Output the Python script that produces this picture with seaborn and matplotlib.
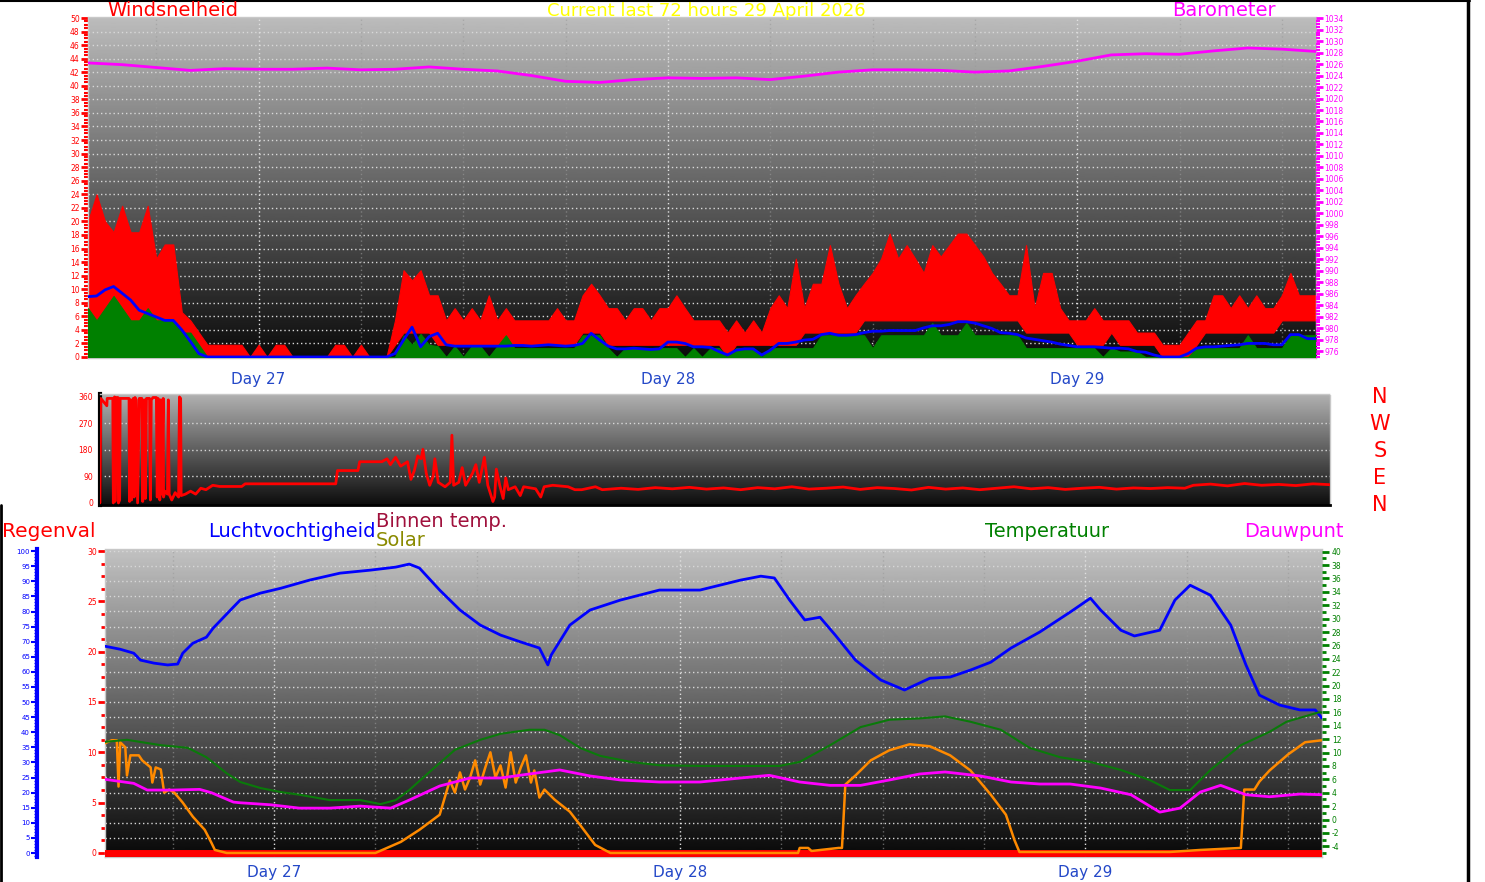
import numpy as np
import pandas as pd
import matplotlib
matplotlib.use("Agg")
import matplotlib.pyplot as plt
from matplotlib.lines import Line2D
from matplotlib.ticker import MultipleLocator
import seaborn as sns

W, H = 1485, 882

# time axis = hours since the start of the 72 hour window (Day 26 ~14:00)
half_hours = np.arange(0, 72.5, 0.5)
day_ticks = [10, 34, 58]
day_labels = ["Day 27", "Day 28", "Day 29"]
six_hour_ticks = [4, 16, 22, 28, 40, 46, 52, 64, 70]

# wind speed, half-hourly (upper / lower edge of the gust band, average, wind)
gust_hi = [20, 24, 20, 18.4, 22.3, 18.4, 18.4, 22.3, 14.5, 16.6,
           16.6, 6.6, 5.4, 3.6, 1.8, 1.8, 1.8, 1.8, 1.8, 0,
           1.8, 0, 1.8, 1.8, 0, 0, 0, 0, 0, 1.8,
           1.8, 0, 1.8, 0, 0, 0, 5.4, 12.8, 11.3, 12.8,
           9.1, 9.1, 5.4, 7.2, 5.4, 7.2, 5.4, 9.1, 5.4, 7.2,
           5.4, 5.4, 5.4, 5.4, 5.4, 7.2, 5.4, 5.4, 9.1, 10.8,
           9.1, 7.2, 7.2, 5.4, 7.2, 7.2, 5.4, 7.2, 7.2, 9.1,
           7.2, 5.4, 5.4, 5.4, 5.4, 3.6, 5.4, 3.6, 5.4, 3.6,
           7.2, 9.1, 7.2, 14.5, 7.2, 10.8, 10.8, 16.5, 10.8, 7.2,
           9.1, 10.8, 12.4, 14.5, 18.2, 14.5, 16.5, 14.5, 12.4, 16.5,
           14.8, 16.5, 18.2, 18.2, 16.5, 14.8, 12.4, 10.8, 9.1, 9.1,
           16.5, 7.2, 12.4, 12.4, 7.2, 5.4, 5.4, 5.4, 7.2, 5.4,
           5.4, 5.4, 5.4, 3.6, 3.6, 3.6, 1.8, 1.8, 1.8, 3.6,
           5.4, 5.4, 9.1, 9.1, 7.2, 9.1, 7.2, 9.1, 7.2, 7.2,
           9.1, 12.4, 9.1, 9.1, 9.1]
gust_lo = [3.6, 3.6, 3.6, 3.6, 3.6, 3.6, 3.6, 3.6, 3.6, 3.6,
           3.6, 1.8, 1.8, 0, 0, 0, 0, 0, 0, 0,
           0, 0, 0, 0, 0, 0, 0, 0, 0, 0,
           0, 0, 0, 0, 0, 0, 1.8, 3.6, 3.6, 3.6,
           3.6, 1.8, 1.8, 1.8, 1.8, 1.8, 1.8, 1.8, 1.8, 1.8,
           1.8, 1.8, 1.8, 1.8, 1.8, 1.8, 1.8, 1.8, 3.6, 3.6,
           3.6, 1.8, 1.8, 1.8, 1.8, 1.8, 1.8, 1.8, 1.8, 1.8,
           1.8, 1.8, 1.8, 1.8, 1.8, 0, 1.8, 1.8, 1.8, 1.8,
           1.8, 1.8, 1.8, 1.8, 3.6, 3.6, 3.6, 3.6, 3.6, 3.6,
           3.6, 5.4, 5.4, 5.4, 5.4, 5.4, 5.4, 5.4, 5.4, 5.4,
           5.4, 5.4, 5.4, 5.4, 5.4, 5.4, 5.4, 5.4, 5.4, 5.4,
           3.6, 3.6, 3.6, 3.6, 3.6, 3.6, 1.8, 1.8, 1.8, 1.8,
           3.6, 1.8, 1.8, 1.8, 1.8, 1.8, 0, 0, 0, 0,
           1.8, 3.6, 3.6, 3.6, 3.6, 3.6, 3.6, 3.6, 3.6, 3.6,
           5.4, 5.4, 5.4, 5.4, 5.4]
wind_avg = [8.9, 9.0, 9.9, 10.4, 9.4, 8.4, 6.9, 6.4, 5.9, 5.4,
            5.4, 4.0, 2.3, 0.5, 0, 0, 0, 0, 0, 0,
            0, 0, 0, 0, 0, 0, 0, 0, 0, 0,
            0, 0, 0, 0, 0, 0, 0.5, 2.5, 4.4, 1.5,
            3.0, 3.5, 1.8, 1.6, 1.6, 1.6, 1.6, 1.6, 1.6, 1.6,
            1.7, 1.7, 1.6, 1.7, 1.8, 1.7, 1.6, 1.7, 2.0, 3.5,
            2.5, 1.6, 1.2, 1.2, 1.3, 1.2, 1.1, 1.2, 2.2, 2.2,
            2.0, 1.5, 1.5, 1.4, 0.8, 0.3, 1.0, 1.2, 1.2, 0.3,
            1.0, 2.0, 2.0, 2.2, 2.5, 2.6, 3.3, 3.5, 3.2, 3.2,
            3.3, 3.6, 3.8, 3.8, 3.9, 3.9, 3.9, 3.9, 4.3, 4.6,
            4.6, 4.8, 5.2, 5.2, 5.0, 4.6, 4.2, 3.6, 3.5, 3.3,
            2.8, 2.6, 2.4, 2.2, 1.9, 1.7, 1.5, 1.5, 1.5, 1.4,
            1.3, 1.3, 1.2, 0.8, 0.7, 0.3, 0, 0, 0, 0.5,
            1.3, 1.5, 1.5, 1.6, 1.7, 1.8, 2.0, 2.0, 2.0, 1.8,
            1.8, 3.3, 3.3, 2.7, 2.7]
wind_speed = [7.2, 5.4, 7.2, 9.0, 7.2, 5.4, 5.4, 7.2, 5.4, 5.4,
              5.4, 3.6, 3.6, 1.8, 0, 0, 0, 0, 0, 0,
              0, 0, 0, 0, 0, 0, 0, 0, 0, 0,
              0, 0, 0, 0, 0, 0, 0, 3.2, 1.8, 3.4,
              1.8, 1.6, 0, 1.6, 0, 1.6, 1.6, 0, 1.6, 3.2,
              1.3, 1.3, 1.3, 1.3, 1.3, 1.3, 1.3, 1.3, 3.2, 3.2,
              3.2, 1.3, 0, 1.3, 1.3, 1.3, 1.3, 1.3, 1.3, 1.3,
              0, 1.3, 0, 1.3, 1.3, 0, 1.3, 1.3, 1.3, 0,
              1.3, 1.3, 1.3, 1.3, 1.3, 1.3, 3.2, 3.2, 3.2, 3.2,
              3.2, 3.2, 1.3, 3.2, 3.2, 3.2, 3.2, 3.2, 3.2, 5.0,
              3.2, 3.2, 3.2, 5.0, 3.2, 3.2, 3.2, 3.2, 3.2, 3.2,
              1.3, 1.3, 1.3, 1.3, 1.3, 1.3, 1.3, 1.3, 1.3, 0,
              1.3, 0.8, 0.8, 0.8, 0, 0, 0, 0, 0, 0,
              1.3, 1.3, 1.3, 1.3, 1.3, 1.3, 3.2, 1.3, 1.3, 1.3,
              1.3, 3.2, 3.2, 3.2, 3.2]

# barometer (hPa), every 2 hours
baro_hours = list(range(0, 73, 2))
barometer = [1026.2, 1025.9, 1025.4, 1024.9, 1025.2, 1025.1, 1025.1, 1025.3, 1025.0, 1025.1,
             1025.5, 1025.1, 1024.8, 1024.0, 1023.0, 1022.8, 1023.3, 1023.6, 1023.5, 1023.6,
             1023.3, 1023.9, 1024.6, 1025.0, 1025.0, 1024.9, 1024.6, 1024.8, 1025.6, 1026.5,
             1027.6, 1027.8, 1027.7, 1028.3, 1028.8, 1028.6, 1028.2]

# wind direction (degrees)
dir_hours = [0.0, 0.05, 0.4, 0.42, 0.45, 0.75, 0.78, 0.85, 0.88, 0.95,
             1.05, 1.08, 1.15, 1.18, 1.7, 1.73, 1.8, 1.85, 1.95, 2.0,
             2.05, 2.12, 2.2, 2.3, 2.45, 2.5, 2.6, 2.65, 2.72, 2.9,
             2.95, 3.0, 3.1, 3.3, 3.35, 3.4, 3.5, 3.55, 3.6, 3.7,
             3.72, 3.8, 3.95, 4.0, 4.05, 4.2, 4.4, 4.6, 4.65, 4.72,
             4.75, 5.0, 5.3, 5.6, 5.9, 6.2, 6.6, 7.0, 8.3, 8.5,
             13.8, 13.9, 15.1, 15.2, 16.5, 16.8, 17.0, 17.3, 17.6, 18.0,
             18.2, 18.4, 18.6, 18.8, 18.9, 19.1, 19.3, 19.5, 19.6, 19.8,
             20.2, 20.5, 20.6, 20.7, 21.0, 21.2, 21.4, 21.8, 22.0, 22.2,
             22.5, 22.7, 23.0, 23.1, 23.2, 23.4, 23.6, 23.75, 23.9, 24.3,
             24.6, 24.8, 25.5, 25.8, 26.0, 26.5, 27.4, 27.8, 28.2, 29.0,
             29.4, 30.5, 31.5, 32.5, 33.5, 34.5, 35.5, 36.5, 37.5, 38.5,
             39.5, 40.5, 41.5, 42.5, 43.5, 44.5, 45.5, 46.5, 47.5, 48.5,
             49.5, 50.5, 51.5, 52.5, 53.5, 54.5, 55.5, 56.5, 57.5, 58.5,
             59.5, 60.5, 61.5, 62.5, 63.5, 64.0, 65.0, 66.0, 67.0, 68.0,
             69.0, 70.0, 71.0, 72.0]
wind_dir = [0, 355, 330, 355, 355, 355, 0, 360, 5, 358,
            358, 0, 10, 355, 355, 5, 350, 10, 355, 20,
            358, 350, 0, 355, 355, 5, 350, 15, 355, 355,
            10, 350, 358, 358, 20, 355, 10, 350, 30, 355,
            20, 40, 30, 350, 30, 10, 35, 20, 360, 355,
            25, 30, 40, 30, 50, 45, 60, 56, 56, 65,
            65, 110, 110, 140, 140, 150, 130, 155, 125, 140,
            80, 110, 160, 150, 182, 100, 60, 90, 150, 70,
            55, 70, 230, 60, 70, 120, 60, 100, 130, 70,
            155, 60, 5, 20, 115, 60, 15, 85, 45, 55,
            25, 55, 48, 20, 55, 60, 55, 45, 45, 55,
            45, 50, 46, 52, 48, 53, 47, 51, 45, 52,
            48, 55, 47, 50, 54, 46, 52, 49, 44, 53,
            47, 51, 45, 50, 55, 48, 52, 46, 50, 53,
            47, 51, 49, 52, 50, 60, 64, 58, 66, 60,
            63, 59, 65, 62]

# humidity (%)
hum_hours = [0, 0.9, 1.7, 2.1, 2.9, 3.7, 4.3, 4.6, 5.2, 6.0,
             6.4, 7.6, 8.0, 9.2, 10.4, 12.1, 13.9, 15.7, 17.2, 18.0,
             18.6, 19.8, 21.0, 22.2, 23.4, 24.6, 25.7, 26.2, 26.4, 27.5,
             28.7, 30.5, 32.8, 35.2, 37.6, 38.8, 39.6, 40.5, 41.4, 42.3,
             43.2, 44.4, 45.9, 47.3, 48.8, 50.0, 51.2, 52.4, 53.6, 55.3,
             57.1, 58.3, 58.9, 60.1, 60.9, 62.4, 63.3, 64.2, 65.4, 66.6,
             67.5, 68.3, 69.5, 70.7, 71.6, 72.0]
humidity = [68.5, 67.5, 66.2, 63.9, 62.9, 62.3, 62.6, 66.2, 69.5, 71.5,
            74.5, 81.5, 83.8, 86.1, 87.7, 90.4, 92.7, 93.7, 94.7, 95.7,
            94.4, 87.1, 80.5, 75.5, 72.2, 69.9, 67.9, 62.3, 65.6, 75.5,
            80.5, 83.8, 87.1, 87.1, 90.4, 91.7, 91.1, 83.8, 77.2, 78.1,
            72.2, 63.9, 57.3, 54.0, 57.9, 58.3, 60.6, 63.2, 67.9, 73.2,
            79.8, 84.4, 80.5, 73.8, 71.9, 73.8, 83.8, 88.7, 85.4, 75.5,
            62.3, 52.3, 49.0, 47.4, 47.4, 44.7]

# outdoor temperature and dew point (deg C)
temp_hours = [0, 1.3, 3.3, 4.9, 6.0, 7.2, 8.0, 9.2, 10.4, 11.5,
              13.3, 15.1, 16.3, 17.2, 18.0, 19.2, 20.7, 22.2, 23.4, 25.1,
              26.0, 26.9, 28.1, 29.3, 31.1, 32.8, 35.2, 37.6, 39.9, 41.1,
              42.9, 44.7, 46.4, 48.2, 49.7, 51.2, 53.0, 54.7, 56.5, 58.3,
              60.1, 61.8, 63.0, 64.2, 65.4, 67.2, 68.9, 69.9, 71.8, 72.0]
temperature = [11.6, 11.9, 11.1, 10.7, 9.3, 6.9, 5.6, 4.7, 4.1, 3.7,
               2.9, 2.9, 2.3, 2.9, 4.4, 7.1, 10.4, 11.9, 12.8, 13.4,
               13.4, 12.6, 10.7, 9.5, 8.6, 8.1, 8.0, 8.0, 8.0, 8.6,
               11.1, 13.8, 14.9, 15.1, 15.4, 14.6, 13.4, 10.7, 9.3, 8.6,
               7.4, 5.9, 4.4, 4.4, 7.4, 11.1, 13.1, 14.6, 16.0, 16.0]
dew_hours = [0, 1.7, 2.5, 4.0, 5.6, 6.3, 7.6, 8.0, 9.8, 11.5,
             13.3, 15.1, 16.9, 18.0, 19.8, 21.6, 23.4, 25.1, 26.9, 28.7,
             30.5, 32.8, 35.2, 37.6, 39.3, 41.1, 42.9, 44.7, 46.4, 48.2,
             49.7, 51.8, 53.6, 55.3, 57.1, 58.9, 60.7, 62.4, 63.6, 64.8,
             66.0, 67.5, 68.9, 70.7, 72.0]
dewpoint = [6.0, 5.4, 4.4, 4.4, 4.5, 4.0, 2.6, 2.5, 2.2, 1.7,
            1.7, 2.0, 1.7, 2.9, 5.0, 6.2, 6.2, 6.8, 7.4, 6.5,
            5.9, 5.6, 5.6, 6.2, 6.6, 5.6, 5.1, 5.1, 5.9, 6.8,
            7.1, 6.5, 5.6, 5.3, 5.3, 4.7, 3.7, 1.1, 1.7, 4.1,
            5.1, 3.7, 3.4, 3.8, 3.7]

# solar (read on the left 0-30 scale)
solar_hours = [0, 0.4, 0.7, 0.8, 0.9, 1.2, 1.3, 1.5, 2.0, 2.2,
               2.7, 2.8, 3.0, 3.3, 3.5, 3.8, 4.1, 4.6, 5.2, 5.9,
               6.3, 6.5, 7.2, 16.0, 17.5, 18.6, 19.8, 20.4, 20.7, 21.0,
               21.3, 21.6, 21.9, 22.2, 22.5, 22.8, 23.1, 23.4, 23.7, 24.0,
               24.3, 24.6, 24.9, 25.2, 25.4, 25.7, 26.0, 26.6, 27.5, 28.1,
               29.0, 29.9, 41.0, 41.1, 41.6, 41.8, 43.4, 43.6, 43.8, 44.4,
               45.3, 46.4, 47.6, 48.8, 50.0, 51.2, 52.4, 53.3, 53.8, 54.1,
               63.0, 64.8, 67.2, 67.4, 68.0, 68.3, 68.9, 70.0, 71.0, 72.0]
solar = [10.9, 11.2, 11.2, 6.6, 11.0, 10.5, 7.7, 9.7, 9.7, 9.2,
         8.5, 7.0, 8.5, 8.3, 6.0, 6.3, 6.0, 5.0, 3.6, 2.3,
         1.0, 0.3, 0, 0, 1.1, 2.3, 3.8, 7.2, 6.0, 8.0,
         6.3, 7.5, 9.2, 6.8, 8.5, 10.0, 7.5, 8.7, 6.5, 10.0,
         7.0, 8.5, 9.7, 7.0, 8.2, 5.5, 6.3, 5.3, 4.1, 2.8,
         0.8, 0, 0, 0.5, 0.5, 0.2, 0.5, 0.5, 6.8, 7.7,
         9.2, 10.2, 10.8, 10.6, 9.7, 8.2, 5.8, 3.8, 1.3, 0.1,
         0.1, 0.3, 0.5, 6.3, 6.3, 7.1, 8.2, 9.8, 11.0, 11.2]

rain_hours = [0, 72]
rain = [0, 0]

compass = ["N", "W", "S", "E", "N"]

wind = pd.DataFrame({"hour": half_hours, "gust_hi": gust_hi, "gust_lo": gust_lo,
                     "avg": wind_avg, "speed": wind_speed})

sns.set_style("white")
plt.rcParams["font.family"] = ["DejaVu Sans"]
plt.rcParams["axes.unicode_minus"] = False

fig = plt.figure(figsize=(W / 100, H / 100), dpi=100)
fig.patch.set_facecolor("white")

DOT = (0, (1, 2))
DAYBLUE = "#2448c8"


def rect(x0, y0, x1, y1):
    # pixel box (top-left origin) -> figure fraction box
    return [x0 / W, 1 - y1 / H, (x1 - x0) / W, (y1 - y0) / H]


def backdrop(ax, top, bottom):
    shade = np.linspace(top, bottom, 256).reshape(-1, 1)
    ax.imshow(shade, cmap="gray", vmin=0, vmax=1, aspect="auto",
              extent=(0, 1, 0, 1), transform=ax.transAxes, zorder=0)


def frame(ax):
    for s in ax.spines.values():
        s.set_color("#c8c8c8")
        s.set_linestyle((0, (1, 1)))
        s.set_linewidth(1)


def hide_spines(ax):
    for s in ax.spines.values():
        s.set_visible(False)


def time_axis(ax, pad=6):
    ax.set_xlim(0, 72)
    ax.set_xticks(day_ticks, labels=day_labels)
    ax.set_xticks(six_hour_ticks, minor=True)
    ax.tick_params(axis="x", which="both", colors="#808080", length=4, width=1.5)
    ax.tick_params(axis="x", which="major", labelcolor=DAYBLUE, labelsize=11, pad=pad)
    for t in six_hour_ticks:
        ax.axvline(t, color="#9a9a9a", lw=1, ls=DOT, alpha=0.6, zorder=1)
    for t in day_ticks:
        ax.axvline(t, color="#e0e0e0", lw=1, ls=DOT, zorder=1)
    ax.set_xlabel("")


# ---------------- wind speed + barometer ----------------
ax1 = fig.add_axes(rect(88, 17, 1316, 358))
backdrop(ax1, 0.74, 0.04)
for v in np.arange(2, 50, 2):
    ax1.axhline(v, color="#d8d8d8", lw=1, ls=DOT, zorder=1)
time_axis(ax1)
ax1.fill_between(wind["hour"], wind["gust_lo"], wind["gust_hi"],
                 color="#ff0000", lw=0.8, edgecolor="#ff0000", zorder=2)
ax1.fill_between(wind["hour"], 0, wind["speed"],
                 color="#008000", lw=0.8, edgecolor="#008000", zorder=3)
sns.lineplot(data=wind, x="hour", y="avg", ax=ax1, color="#0000ff", lw=2,
             estimator=None, sort=False, zorder=4)
ax1.set_xlim(0, 72)
ax1.set_ylim(-0.15, 50.15)
ax1.yaxis.set_major_locator(MultipleLocator(2))
ax1.yaxis.set_minor_locator(MultipleLocator(0.5))
ax1.tick_params(axis="y", which="major", colors="red", labelsize=5.5, length=5, width=2, pad=1)
ax1.tick_params(axis="y", which="minor", colors="red", length=3, width=1.5)
ax1.set_xlabel("")
ax1.set_ylabel("")
frame(ax1)

ax1b = ax1.twinx()
sns.lineplot(x=baro_hours, y=barometer, ax=ax1b, color="#ff00ff", lw=2,
             estimator=None, sort=False)
ax1b.set_ylim(974.8, 1034.2)
ax1b.yaxis.set_major_locator(MultipleLocator(2))
ax1b.yaxis.set_minor_locator(MultipleLocator(0.5))
ax1b.tick_params(axis="y", which="major", colors="#ff00ff", labelsize=5.5, length=5, width=2, pad=1)
ax1b.tick_params(axis="y", which="minor", colors="#ff00ff", length=3, width=1.5)
ax1b.set_ylabel("")
hide_spines(ax1b)

# ---------------- wind direction ----------------
ax2 = fig.add_axes(rect(100, 394, 1330, 505))
backdrop(ax2, 0.70, 0.05)
for v in [90, 180, 270]:
    ax2.axhline(v, color="#d8d8d8", lw=1, ls=DOT, zorder=1)
sns.lineplot(x=dir_hours, y=wind_dir, ax=ax2, color="#ff0000", lw=2,
             estimator=None, sort=False, zorder=3)
ax2.set_xlim(0, 72)
ax2.set_ylim(-7, 370)
ax2.set_xticks([])
ax2.yaxis.set_major_locator(MultipleLocator(90))
ax2.yaxis.set_minor_locator(MultipleLocator(22.5))
ax2.tick_params(axis="y", which="major", colors="red", labelsize=5.5, length=4, width=1.5, pad=1)
ax2.tick_params(axis="y", which="minor", colors="red", length=3, width=1.5)
frame(ax2)
ax2.spines["left"].set_color("black")
ax2.spines["left"].set_linestyle("-")
ax2.spines["left"].set_linewidth(3)
ax2.spines["bottom"].set_color("black")
ax2.spines["bottom"].set_linestyle("-")
ax2.spines["bottom"].set_linewidth(2)

# ---------------- rain / humidity / temperature ----------------
ax3 = fig.add_axes(rect(105, 549, 1322, 857))
backdrop(ax3, 0.76, 0.03)
for v in np.arange(1.5, 30.1, 1.5):
    ax3.axhline(v, color="#d8d8d8", lw=1, ls=DOT, zorder=1)
time_axis(ax3, pad=2)
sns.lineplot(x=rain_hours, y=rain, ax=ax3, color="#ff0000", lw=5,
             estimator=None, sort=False, zorder=3)
sns.lineplot(x=solar_hours, y=solar, ax=ax3, color="#ff8a00", lw=1.8,
             estimator=None, sort=False, zorder=5)
ax3.set_xlim(0, 72)
ax3.set_ylim(-0.4, 30.2)
ax3.yaxis.set_major_locator(MultipleLocator(5))
ax3.yaxis.set_minor_locator(MultipleLocator(1.25))
ax3.tick_params(axis="y", which="major", colors="red", labelsize=5.5, length=5, width=2, pad=1)
ax3.tick_params(axis="y", which="minor", colors="red", length=3, width=2)
ax3.set_ylabel("")
frame(ax3)

ax3h = ax3.twinx()
sns.lineplot(x=hum_hours, y=humidity, ax=ax3h, color="#0000ff", lw=2,
             estimator=None, sort=False)
ax3h.set_ylim(-1.3, 100.7)
hide_spines(ax3h)
ax3h.yaxis.set_ticks_position("left")
ax3h.spines["left"].set_visible(True)
ax3h.spines["left"].set_position(("outward", 49))
ax3h.spines["left"].set_color("#0000ff")
ax3h.spines["left"].set_linewidth(3)
ax3h.yaxis.set_major_locator(MultipleLocator(5))
ax3h.yaxis.set_minor_locator(MultipleLocator(1))
ax3h.tick_params(axis="y", which="major", colors="#0000ff", labelsize=5, length=4, width=1.5, pad=1)
ax3h.tick_params(axis="y", which="minor", colors="#0000ff", length=2, width=1)
ax3h.set_ylabel("")

ax3t = ax3.twinx()
sns.lineplot(x=temp_hours, y=temperature, ax=ax3t, color="#0a7a0a", lw=1.5,
             estimator=None, sort=False)
sns.lineplot(x=dew_hours, y=dewpoint, ax=ax3t, color="#ff00ff", lw=2,
             estimator=None, sort=False)
ax3t.set_ylim(-5.6, 40.4)
hide_spines(ax3t)
ax3t.yaxis.set_major_locator(MultipleLocator(2))
ax3t.yaxis.set_minor_locator(MultipleLocator(1))
ax3t.tick_params(axis="y", which="major", colors="#008000", labelsize=5.5, length=5, width=2, pad=2)
ax3t.tick_params(axis="y", which="minor", colors="#008000", length=3, width=2)
ax3t.set_ylabel("")

# ---------------- texts ----------------
def label(x, y, s, color, size=14, ha="left", va="baseline"):
    fig.text(x / W, 1 - y / H, s, color=color, fontsize=size, ha=ha, va=va)


label(107, 16, "Windsnelheid", "#ff0000")
label(706, 16, "Current last 72 hours 29 April 2026", "#ffff00", size=13, ha="center")
label(1172, 16, "Barometer", "#ff00ff")
for k, c in enumerate(compass):
    label(1380, 397 + k * 27, c, "#ff0000", size=15, ha="center", va="center")
label(2, 537, "Regenval", "#ff0000", size=14.5)
label(208, 537, "Luchtvochtigheid", "#0000ff")
label(376, 527, "Binnen temp.", "#a0103c")
label(376, 546, "Solar", "#8a8a00")
label(985, 537, "Temperatuur", "#008000")
label(1244, 537, "Dauwpunt", "#ff00ff")

# outer black frame
fig.add_artist(Line2D([0, 1470 / W], [1 - 0.5 / H, 1 - 0.5 / H], color="black", lw=1.5))
fig.add_artist(Line2D([1468 / W, 1468 / W], [0, 1], color="black", lw=2.5))
fig.add_artist(Line2D([1 / W, 1 / W], [0, 1 - 505 / H], color="black", lw=2))

fig.savefig("out.png", dpi=100, facecolor="white")
